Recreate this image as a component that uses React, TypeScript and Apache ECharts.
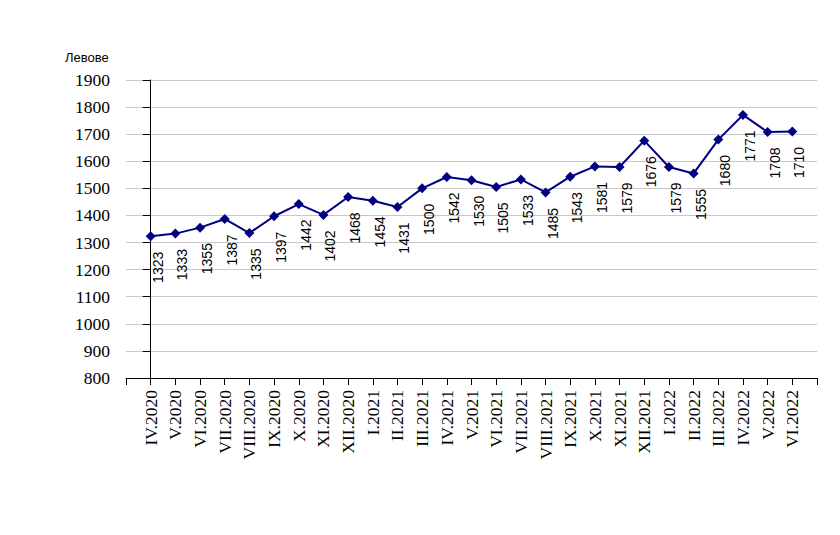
import React, { useEffect, useRef } from "react";
import * as echarts from "echarts";

const months = [
  "IV.2020", "V.2020", "VI.2020", "VII.2020", "VIII.2020", "IX.2020", "X.2020", "XI.2020", "XII.2020",
  "I.2021", "II.2021", "III.2021", "IV.2021", "V.2021", "VI.2021", "VII.2021", "VIII.2021", "IX.2021",
  "X.2021", "XI.2021", "XII.2021", "I.2022", "II.2022", "III.2022", "IV.2022", "V.2022", "VI.2022",
];
const wages = [
  1323, 1333, 1355, 1387, 1335, 1397, 1442, 1402, 1468,
  1454, 1431, 1500, 1542, 1530, 1505, 1533, 1485, 1543,
  1581, 1579, 1676, 1579, 1555, 1680, 1771, 1708, 1710,
];
const yTicks = { min: 800, max: 1900, step: 100 };
const unitLabel = "Левове";

export default function App() {
  const ref = useRef<HTMLDivElement>(null);
  useEffect(() => {
    if (!ref.current) return;
    const chart = echarts.init(ref.current, null, { renderer: "svg" });
    chart.setOption({
      animation: false,
      grid: { left: 126, right: 23, top: 80, bottom: 157 },
      graphic: [
        {
          type: "text",
          left: 65,
          top: 51,
          style: { text: unitLabel, font: "13px 'Liberation Sans', Arial, sans-serif", fill: "#000" },
        },
      ],
      xAxis: {
        type: "value",
        min: -1,
        max: months.length,
        interval: 1,
        splitLine: { show: false },
        axisLine: { show: true, onZero: false, lineStyle: { color: "#000", width: 1 } },
        axisTick: { show: true, length: 7, lineStyle: { color: "#000" } },
        axisLabel: {
          rotate: 90,
          margin: 12,
          fontFamily: "Liberation Serif",
          fontSize: 17.5,
          color: "#000",
          showMinLabel: true,
          showMaxLabel: true,
          formatter: (v: number) => (months[v] !== undefined ? months[v] : ""),
        },
      },
      yAxis: {
        type: "value",
        min: yTicks.min,
        max: yTicks.max,
        interval: yTicks.step,
        axisLine: { show: true, lineStyle: { color: "#000", width: 1 } },
        axisTick: { show: true, length: 8, lineStyle: { color: "#000" } },
        splitLine: { show: true, lineStyle: { color: "#c8c8c8", width: 1 } },
        axisLabel: {
          margin: 16,
          fontFamily: "Liberation Serif",
          fontSize: 17.5,
          color: "#000",
          formatter: (v: number) => String(v),
        },
      },
      series: [
        {
          type: "line",
          data: wages.map((v, i) => [i, v]),
          symbol: "diamond",
          symbolSize: 10,
          lineStyle: { color: "#000080", width: 2 },
          itemStyle: { color: "#000080" },
          label: {
            show: true,
            position: "bottom",
            distance: 11,
            offset: [-15, 0],
            rotate: 90,
            fontFamily: "Liberation Sans",
            fontSize: 14,
            color: "#000",
            formatter: (p: any) => String(p.value[1]),
          },
        },
      ],
    });
    return () => chart.dispose();
  }, []);
  return (
    <div
      ref={ref}
      style={{ position: "fixed", left: 0, top: 0, width: 840, height: 535, background: "#fff" }}
    />
  );
}
